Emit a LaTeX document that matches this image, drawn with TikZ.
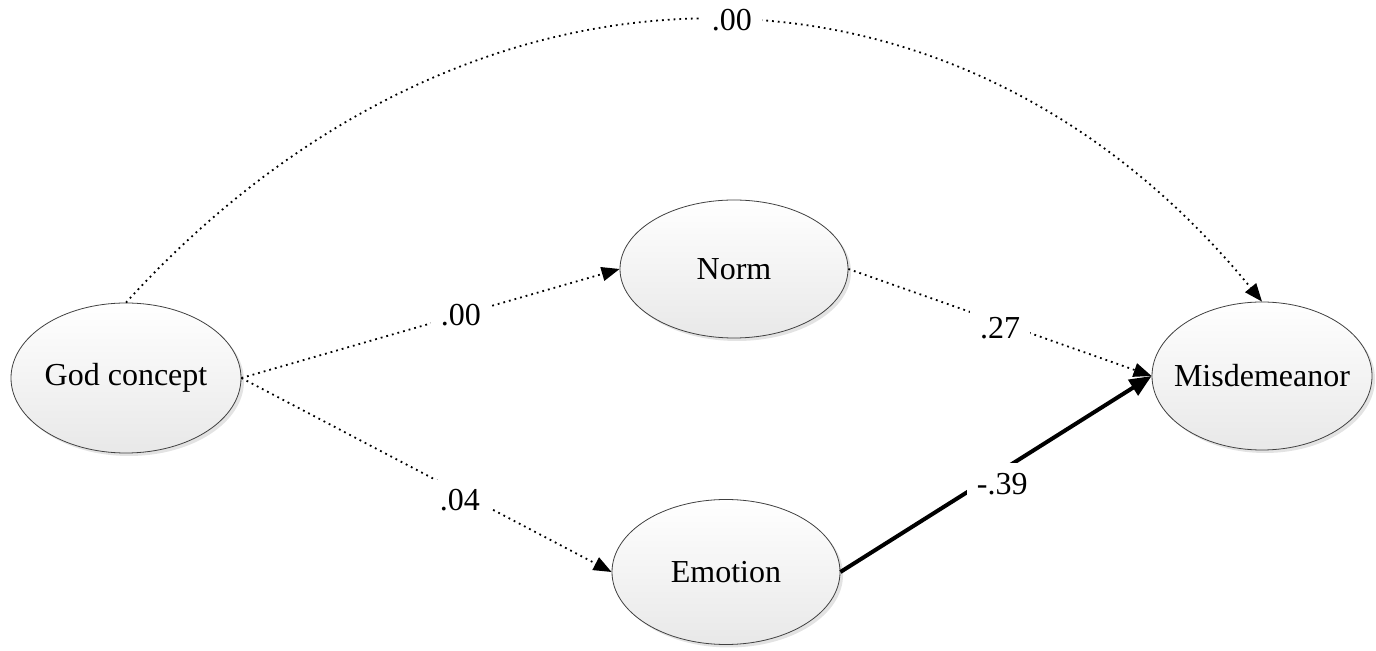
\documentclass[tikz,border=0pt]{standalone}
\usepackage{fontspec}
\setmainfont{Liberation Serif}
\usetikzlibrary{shapes.geometric,arrows.meta,shadows}
\begin{document}
\begin{tikzpicture}[x=0.5pt,y=-0.5pt]
	\tikzstyle{every node}=[font=\fontsize{16}{19}\selectfont]
	\tikzstyle{latent}=[ellipse, draw=black!75, thin, inner sep=0pt, top color=white, bottom color=black!9, drop shadow={shadow xshift=1.5pt, shadow yshift=-1.5pt, fill=black!22}]
	\tikzstyle{weak}=[dotted, line width=0.9pt, -{Triangle[length=9pt,width=7pt]}]
	\tikzstyle{strong}=[line width=2pt, -{Triangle[length=11pt,width=9pt]}]
	\tikzstyle{coef}=[fill=white, inner sep=5pt]
	\useasboundingbox (0,0) rectangle (1376,651);
	\node[latent, minimum width=115pt, minimum height=75pt, label=center:God concept] (G) at (126,378) {};
	\node[latent, minimum width=114pt, minimum height=69pt, label=center:Norm] (N) at (734,269) {};
	\node[latent, minimum width=114pt, minimum height=72.5pt, label=center:Emotion] (E) at (726,572) {};
	\node[latent, minimum width=110pt, minimum height=74pt, label=center:Misdemeanor] (M) at (1262,376) {};
	\draw [weak] (G.east) -- (N.west) node[coef, pos=0.58] {.00};
	\draw [weak] (G.east) -- (E.west) node[coef, pos=0.59, yshift=-4pt] {.04};
	\draw [weak] (N.east) -- (M.west) node[coef, pos=0.5, yshift=-3pt] {.27};
	\draw [strong] (E.east) -- (M.west) node[coef, pos=0.52, yshift=-7pt] {-.39};
	\draw [weak] (G.north) .. controls (469,-74) and (955,-74) .. (M.north) node[coef, pos=0.52] {.00};
\end{tikzpicture}
\end{document}
